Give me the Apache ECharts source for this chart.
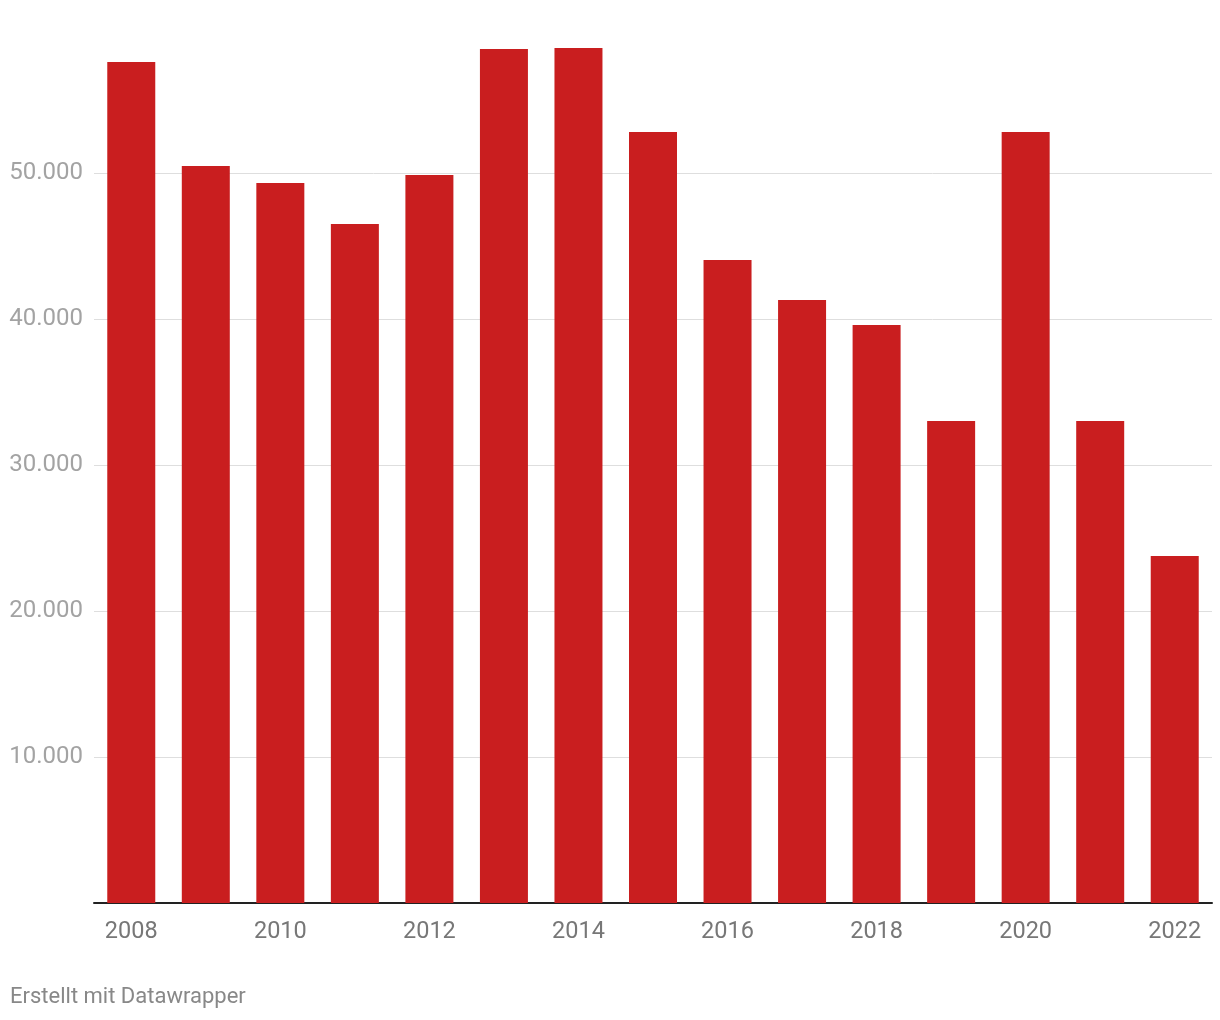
<!DOCTYPE html>
<html><head><meta charset="utf-8">
<script src="https://cdn.jsdelivr.net/npm/echarts@6/dist/echarts.min.js"></script>
<style>html,body{margin:0;padding:0;background:#fff}#c{width:1220px;height:1020px}</style>
</head><body><div id="c"></div>
<script>
const years = ['2008','2009','2010','2011','2012','2013','2014','2015','2016','2017','2018','2019','2020','2021','2022'];
const values = [57600, 50480, 49320, 46510, 49860, 58490, 58560, 52810, 44040, 41300, 39590, 33010, 52810, 33010, 23770];
const yTicks = [0, 10000, 20000, 30000, 40000, 50000, 60000];
const footer = 'Erstellt mit Datawrapper';

const chart = echarts.init(document.getElementById('c'));
const fmt = v => String(v).replace(/\B(?=(\d{3})+(?!\d))/g, '.');
chart.setOption({
  animation: false,
  backgroundColor: '#fff',
  grid: {left: 94, right: 8, top: 27, bottom: 117, containLabel: false},
  xAxis: {
    type: 'category', data: years,
    axisLine: {lineStyle: {color: '#222', width: 2}},
    axisTick: {show: false},
    axisLabel: {interval: 1, color: '#777', fontSize: 23.5, fontFamily: 'Roboto', margin: 17}
  },
  yAxis: {
    type: 'value', min: yTicks[0], max: yTicks[yTicks.length-1], interval: 10000,
    axisLine: {show: false}, axisTick: {show: false},
    axisLabel: {color: '#a3a3a3', fontSize: 24, fontFamily: 'Roboto', margin: 11, padding: [3, 0, 0, 0],
      formatter: v => (v === 0 || v === 60000) ? '' : fmt(v)},
    splitLine: {lineStyle: {color: ['transparent','#dedede','#dedede','#dedede','#dedede','#dedede','transparent'], width: 1}}
  },
  series: [{
    type: 'bar', data: values, barWidth: 48,
    itemStyle: {color: '#c91e1f'}
  }],
  graphic: [{type: 'text', left: 10, top: 986, style: {text: footer, fill: '#888', fontSize: 22, fontFamily: 'Roboto'}}]
});
</script></body></html>
